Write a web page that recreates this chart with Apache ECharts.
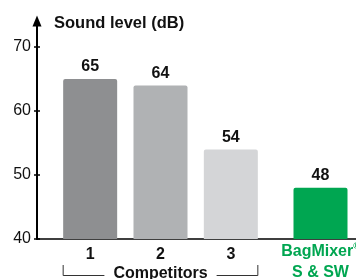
<!DOCTYPE html>
<html>
<head>
<meta charset="utf-8">
<script src="https://cdn.jsdelivr.net/npm/echarts@6/dist/echarts.min.js"></script>
<style>
html,body{margin:0;padding:0;background:#fff;}
#chart{width:356px;height:279px;}
</style>
</head>
<body>
<div id="chart"></div>
<script>
// ---- data ----
const yTitle = 'Sound level (dB)';
const groupLabel = 'Competitors';
const competitorCats = ['1', '2', '3'];
const competitorVals = [65, 64, 54];
const productCats = ['BagMixer®\nS & SW'];
const productVals = [48];
const yTicks = [40, 50, 60, 70];

// ---- styles ----
const FONT = '"Liberation Sans", Arial, Helvetica, sans-serif';
const competitorColors = ['#8e8f91', '#b0b2b4', '#d4d5d7'];
const productColor = '#00a651';
const yMin = yTicks[0], yMax = yTicks[yTicks.length - 1], yStep = yTicks[1] - yTicks[0];

const chart = echarts.init(document.getElementById('chart'), null, {renderer: 'canvas'});

const hiddenY = (g) => ({gridIndex: g, type: 'value', min: yMin, max: yMax, interval: yStep, show: false});
const valueLabel = {show: true, position: 'top', distance: 4, fontFamily: FONT, fontWeight: 'bold', fontSize: 16, color: '#111'};
const G = {outerBoundsMode: 'none', containLabel: false};

const option = {
  animation: false,
  title: {
    text: yTitle, left: 54, top: 15, padding: 0,
    textStyle: {fontFamily: FONT, fontWeight: 'bold', fontSize: 16.5, color: '#111'}
  },
  grid: [
    Object.assign({left: 37, right: 0, top: 47, bottom: 40}, G),
    Object.assign({left: 37, right: 0, top: 21, bottom: 40}, G),
    Object.assign({left: 55, width: 211, top: 47, bottom: 40}, G),
    Object.assign({left: 285, width: 71, top: 47, bottom: 40}, G)
  ],
  xAxis: [
    {gridIndex: 0, type: 'category', data: [''], axisLine: {show: true, onZero: false, lineStyle: {color: '#000', width: 1.5}}, axisTick: {show: false}, axisLabel: {show: false}},
    {gridIndex: 1, type: 'category', data: [''], show: false},
    {gridIndex: 2, type: 'category', data: competitorCats, axisLine: {show: false}, axisTick: {show: false},
      axisLabel: {margin: 8, fontFamily: FONT, fontWeight: 'bold', fontSize: 16, color: '#111'}},
    {gridIndex: 3, type: 'category', data: productCats, axisLine: {show: false}, axisTick: {show: false},
      axisLabel: {margin: 2, fontFamily: FONT, fontWeight: 'bold', fontSize: 16, color: productColor, lineHeight: 21,
        hideOverlap: false, showMinLabel: true, showMaxLabel: true,
        formatter: (v) => v.replace('®', '{r|®}'),
        rich: {r: {fontFamily: FONT, fontWeight: 'bold', fontSize: 9, color: productColor, padding: [0, 0, 10, 0]}}}}
  ],
  yAxis: [
    {gridIndex: 0, type: 'value', min: yMin, max: yMax, interval: yStep, position: 'left',
      axisLine: {show: false}, splitLine: {show: false},
      axisTick: {show: true, length: 3, lineStyle: {color: '#000', width: 1.5}},
      axisLabel: {margin: 6, fontFamily: FONT, fontSize: 16, color: '#111'}},
    {gridIndex: 0, type: 'value', min: yMin, max: yMax, interval: yStep, position: 'left',
      axisLine: {show: false}, splitLine: {show: false}, axisLabel: {show: false},
      axisTick: {show: true, inside: true, length: 3, lineStyle: {color: '#000', width: 1.5}}},
    {gridIndex: 1, type: 'value', min: 0, max: 1, position: 'left',
      axisLine: {show: true, symbol: ['none', 'triangle'], symbolSize: [9, 11], lineStyle: {color: '#000', width: 2}},
      axisTick: {show: false}, axisLabel: {show: false}, splitLine: {show: false}},
    hiddenY(2),
    hiddenY(3)
  ],
  series: [
    {type: 'bar', xAxisIndex: 2, yAxisIndex: 3, barWidth: 54,
      itemStyle: {borderRadius: [2, 2, 0, 0]},
      data: competitorVals.map((v, i) => ({value: v, itemStyle: {color: competitorColors[i]}})),
      label: valueLabel},
    {type: 'bar', xAxisIndex: 3, yAxisIndex: 4, barWidth: 54,
      itemStyle: {borderRadius: [2, 2, 0, 0], color: productColor},
      data: productVals,
      label: valueLabel}
  ]
};
chart.setOption(option);

// bracket under competitor group, derived from the axis positions
const x0 = chart.convertToPixel({xAxisIndex: 2}, 0) - 27;
const x1 = chart.convertToPixel({xAxisIndex: 2}, competitorCats.length - 1) + 27;
const yTop = 265, yBot = 275.5;
chart.setOption({
  graphic: [
    {type: 'polyline', shape: {points: [[x0, yTop], [x0, yBot], [x1, yBot], [x1, yTop]]},
      style: {stroke: '#333', lineWidth: 1, fill: null}, z: 10},
    {type: 'text', x: (x0 + x1) / 2, y: 274, z: 11,
      style: {text: groupLabel, align: 'center', verticalAlign: 'middle', fontFamily: FONT, fontWeight: 'bold', fontSize: 16,
        fill: '#111', backgroundColor: '#fff', padding: [0, 9]}}
  ]
});
</script>
</body>
</html>
